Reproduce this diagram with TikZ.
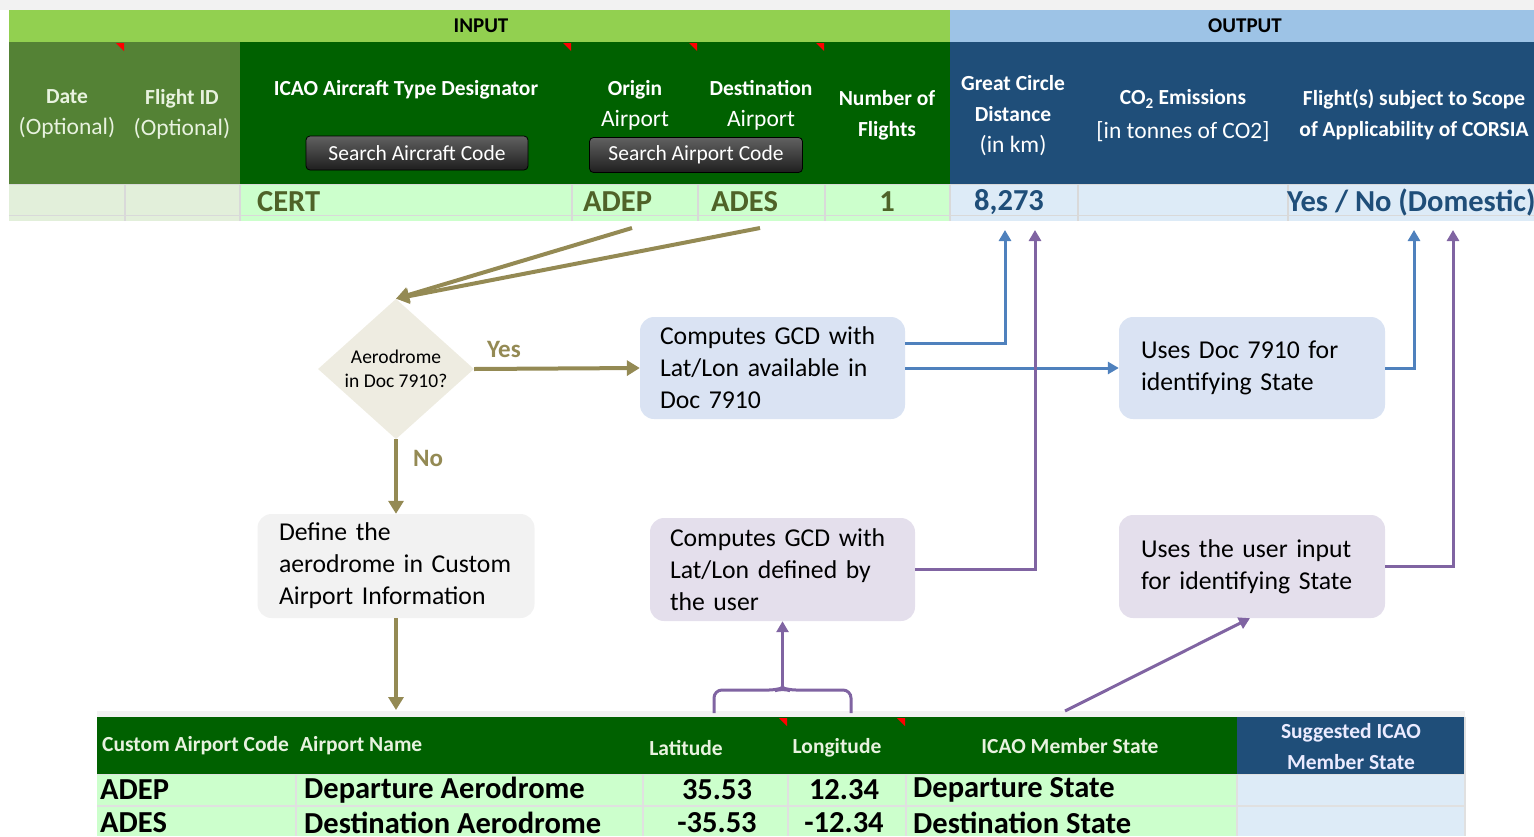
\documentclass[tikz,border=0pt]{standalone}
\usepackage{fontspec}
\setmainfont{Carlito}
\usetikzlibrary{arrows.meta,calc,shapes.geometric}

% no hyphenation inside the text boxes
\hyphenpenalty=10000
\exhyphenpenalty=10000

\definecolor{inbar}{HTML}{92D050}
\definecolor{outbar}{HTML}{9DC3E6}
\definecolor{optgreen}{HTML}{548235}
\definecolor{hdrgreen}{HTML}{006100}
\definecolor{hdrblue}{HTML}{1F4E79}
\definecolor{datagreen}{HTML}{CCFFCC}
\definecolor{datagray}{HTML}{E2EFDA}
\definecolor{datablue}{HTML}{DDEBF7}
\definecolor{gridline}{HTML}{D9D9D9}
\definecolor{hdrtext}{HTML}{E8F2DF}
\definecolor{certtext}{HTML}{4F6228}
\definecolor{olivearr}{HTML}{948A54}
\definecolor{bluearr}{HTML}{4F81BD}
\definecolor{purplearr}{HTML}{8064A2}
\definecolor{boxblue}{HTML}{DAE3F3}
\definecolor{boxgray}{HTML}{F2F2F2}
\definecolor{boxlilac}{HTML}{E4DFEC}
\definecolor{qfill}{HTML}{EEECE1}
\definecolor{strip}{HTML}{F2F2F2}

% regular second lines of the sheet captions
\newcommand{\subcap}[1]{{\mdseries\fontsize{23.5}{31}\selectfont #1}}

\begin{document}
\begin{tikzpicture}[x=1pt,y=-1pt,
  hdr/.style={font=\fontsize{21.5}{31}\selectfont\bfseries, text=white, align=center, inner sep=0},
  band/.style={font=\fontsize{21}{22}\selectfont\bfseries, text=black, inner sep=0},
  btn/.style={draw=black, line width=0.8, rounded corners=4, top color=black!62, bottom color=black!88,
    text=white, font=\fontsize{21.5}{22}\selectfont, inner sep=0},
  celltxt/.style={font=\fontsize{30.5}{31}\selectfont\bfseries, inner sep=0},
  flowbox/.style={rounded corners=14, align=left, font=\fontsize{25.7}{32}\selectfont,
    inner ysep=0, text=black},
  decision/.style={diamond, fill=qfill, minimum width=156, minimum height=136, inner sep=0,
    align=center, font=\fontsize{19.5}{24}\selectfont},
  answer/.style={font=\fontsize{25}{26}\selectfont\bfseries, text=olivearr, inner sep=0},
  olivearrow/.style={draw=olivearr, line width=4, -{Triangle[length=13,width=15]}},
  bluearrow/.style={draw=bluearr, line width=3, -{Triangle[length=11,width=12]}},
  purplearrow/.style={draw=purplearr, line width=3, -{Triangle[length=11,width=12]}},
  purpleline/.style={draw=purplearr, line width=3},
  note/.style={fill=red},
  bhdr/.style={font=\fontsize{21.5}{31}\selectfont\bfseries, text=hdrtext, inner sep=0},
]
\useasboundingbox (0,0) rectangle (1534,836);

% ---------------- upper sheet ----------------
\fill[strip] (0,0) rectangle (1534,10);
\fill[inbar] (9,10) rectangle (950,42);
\fill[outbar] (950,10) rectangle (1534,42);
\node[band] (inlabel) at (481,26) {INPUT};
\node[band] (outlabel) at (1245,26) {OUTPUT};

\fill[optgreen] (9,42) rectangle (240,184);
\fill[hdrgreen] (240,42) rectangle (950,184);
\fill[hdrblue] (950,42) rectangle (1534,184);

% data row and the row below it
\fill[datagray] (9,184) rectangle (240,221);
\fill[datagreen] (240,184) rectangle (950,221);
\fill[datablue] (950,184) rectangle (1534,221);
\draw[gridline, line width=1.2] (9,184.5) -- (1534,184.5) (9,215.5) -- (1534,215.5);
\foreach \cx in {125,240,572,698,825,950,1078,1288}
  \draw[gridline, line width=1.2] (\cx,184) -- (\cx,221);

% comment markers
\foreach \cx in {124,571,697,824}
  \fill[note] (\cx-8,43) -- (\cx,43) -- (\cx,51) -- cycle;

% header captions
\node[hdr, text=hdrtext] (date) at (67,114) {Date\\\subcap{(Optional)}};
\node[hdr, text=hdrtext] (flightid) at (182,114) {Flight ID\\\subcap{(Optional)}};
\node[hdr] (acft) at (406,90) {ICAO Aircraft Type Designator};
\node[btn, minimum width=222, minimum height=34] (acbtn) at (417,153) {Search Aircraft Code};
\node[hdr] (orig) at (635,105) {Origin\\\subcap{Airport}};
\node[hdr] (dest) at (761,105) {Destination\\\subcap{Airport}};
\node[btn, minimum width=213, minimum height=35] (apbtn) at (696,155) {Search Airport Code};
\node[hdr] (nflt) at (887,115) {Number of\\Flights};
\node[hdr] (gcd) at (1013,116) {Great Circle\\Distance\\\subcap{(in km)}};
\node[hdr] (co2) at (1183,116) {CO\textsubscript{2} Emissions\\[3pt]\subcap{[in tonnes of CO2]}};
\node[hdr] (scope) at (1414,115) {Flight(s) subject to Scope\\of Applicability of CORSIA};

% data values
\node[celltxt, text=certtext, anchor=west] (cert) at (257,202) {CERT};
\node[celltxt, text=certtext, anchor=west] (adep) at (583,202) {ADEP};
\node[celltxt, text=certtext, anchor=west] (ades) at (711,202) {ADES};
\node[celltxt, text=certtext] (nval) at (887,202) {1};
\node[celltxt, text=hdrblue, anchor=west] (gcdval) at (974,202) {8,273};
\node[celltxt, text=hdrblue, anchor=west] (scopeval) at (1287,202) {Yes / No (Domestic)};

% connector ends on the upper sheet
\coordinate (adepfoot) at (632,228);
\coordinate (adesfoot) at (760,228);
\coordinate (gcdfootA) at (1005,230);
\coordinate (gcdfootB) at (1035,230);
\coordinate (scopefootA) at (1414,230);
\coordinate (scopefootB) at (1453,230);

% ---------------- lower sheet ----------------
\fill[strip] (97,711) rectangle (1465,717);
\fill[hdrgreen] (97,717) rectangle (1237,774);
\fill[hdrblue] (1237,717) rectangle (1465,774);
\fill[datagreen] (97,774) rectangle (1237,836);
\fill[datablue] (1237,774) rectangle (1465,836);
\draw[white!88!black, line width=1.2] (97,774.5) -- (1465,774.5) (97,806) -- (1465,806);
\foreach \cx in {296,643,788,906,1237}
  \draw[white!88!black, line width=1.2] (\cx,774) -- (\cx,836);
\draw[white!88!black, line width=1.2] (1465,717) -- (1465,836);
\foreach \cx in {787,905}
  \fill[note] (\cx-8,718) -- (\cx,718) -- (\cx,726) -- cycle;

\node[bhdr, anchor=west] (ccode) at (102,746) {Custom Airport Code};
\node[bhdr, anchor=west] (aname) at (300,746) {Airport Name};
\node[bhdr] (lat) at (686,748) {Latitude};
\node[bhdr] (lon) at (837,748) {Longitude};
\node[bhdr] (mstate) at (1070,746) {ICAO Member State};
\node[bhdr, text=white!92!blue, align=center] (sstate) at (1351,747) {Suggested ICAO\\Member State};

\node[celltxt, anchor=west] (r1code) at (100,790) {ADEP};
\node[celltxt, anchor=west] (r1name) at (304,790) {Departure Aerodrome};
\node[celltxt] (r1lat) at (717,790) {35.53};
\node[celltxt] (r1lon) at (844,790) {12.34};
\node[celltxt, anchor=west] (r1state) at (913,790) {Departure State};
\node[celltxt, anchor=west] (r2code) at (100,823) {ADES};
\node[celltxt, anchor=west] (r2name) at (304,823) {Destination Aerodrome};
\node[celltxt] (r2lat) at (717,823) {-35.53};
\node[celltxt] (r2lon) at (844,823) {-12.34};
\node[celltxt, anchor=west] (r2state) at (913,823) {Destination State};

\coordinate (customtop) at (396,710);
\coordinate (latmark) at (714,713);
\coordinate (lonmark) at (851,713);
\coordinate (bracemid) at (782.5,688);
\coordinate (statemark) at (1065,711);

% ---------------- flow ----------------
\node[decision] (q) at (396,369) {Aerodrome\\in Doc 7910?};

\node[flowbox, fill=boxblue, text width=225, inner xsep=20, minimum height=102] (box1) at (772.5,368)
  {Computes GCD with\\Lat/Lon available in\\Doc 7910};
\node[flowbox, fill=boxblue, text width=222, inner xsep=22, minimum height=102] (box2) at (1252,368)
  {Uses Doc 7910 for\\identifying State};
\node[flowbox, fill=boxgray, text width=234, inner xsep=21.5, minimum height=104] (box3) at (396,566)
  {Define the\\aerodrome in Custom\\Airport Information};
\node[flowbox, fill=boxlilac, text width=225, inner xsep=20, minimum height=103] (box4) at (782.5,569.5)
  {Computes GCD with\\Lat/Lon defined by\\the user};
\node[flowbox, fill=boxlilac, text width=222, inner xsep=22, minimum height=103] (box5) at (1252,566.5)
  {Uses the user input\\for identifying State};

\node[answer] (yes) at (504,349) {Yes};
\node[answer] (no) at (428,458) {No};

\draw[olivearrow] (adepfoot) -- (q.north);
\draw[olivearrow] (adesfoot) -- (q.north);
\draw[olivearrow] (q.east) -- (box1.west);
\draw[olivearrow] (q.south) -- (box3.north);
\draw[olivearrow] (box3.south) -- (customtop);

\draw[bluearrow] ($(box1.east)+(0,-25)$) -| (gcdfootA);
\draw[bluearrow] (box1.east) -- (box2.west);
\draw[bluearrow] (box2.east) -| (scopefootA);

\draw[purplearrow] (box4.east) -| (gcdfootB);
\draw[purplearrow] (box5.east) -| (scopefootB);

\draw[purpleline, rounded corners=8] (latmark) -- (714,690) -- (777,690) -- (bracemid)
  -- (788,690) -- (851,690) -- (lonmark);
\draw[purplearrow] (bracemid) -- (box4.south);
\draw[purplearrow] (statemark) -- ($(box5.south)+(-2,0)$);
\end{tikzpicture}
\end{document}
